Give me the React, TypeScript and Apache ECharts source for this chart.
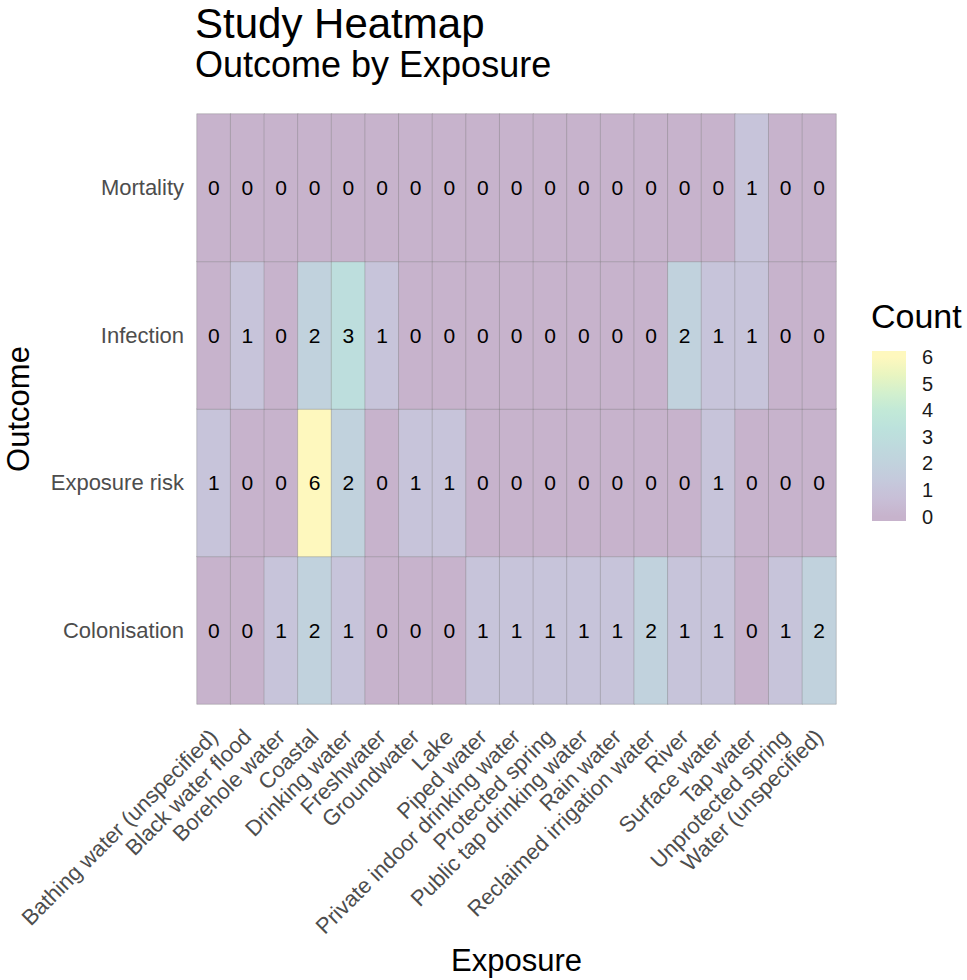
import React, { useEffect, useRef } from "react";
import * as echarts from "echarts";

const exposures = [
  "Bathing water (unspecified)",
  "Black water flood",
  "Borehole water",
  "Coastal",
  "Drinking water",
  "Freshwater",
  "Groundwater",
  "Lake",
  "Piped water",
  "Private indoor drinking water",
  "Protected spring",
  "Public tap drinking water",
  "Rain water",
  "Reclaimed irrigation water",
  "River",
  "Surface water",
  "Tap water",
  "Unprotected spring",
  "Water (unspecified)",
];

// bottom to top
const outcomes = ["Colonisation", "Exposure risk", "Infection", "Mortality"];

const colonisation = [0, 0, 1, 2, 1, 0, 0, 0, 1, 1, 1, 1, 1, 2, 1, 1, 0, 1, 2];
const exposureRisk = [1, 0, 0, 6, 2, 0, 1, 1, 0, 0, 0, 0, 0, 0, 0, 1, 0, 0, 0];
const infection = [0, 1, 0, 2, 3, 1, 0, 0, 0, 0, 0, 0, 0, 0, 2, 1, 1, 0, 0];
const mortality = [0, 0, 0, 0, 0, 0, 0, 0, 0, 0, 0, 0, 0, 0, 0, 0, 1, 0, 0];

const rows = [colonisation, exposureRisk, infection, mortality];

const legendTicks = [0, 1, 2, 3, 4, 5, 6];
const countMin = 0;
const countMax = 6;

// viridis blended on white at alpha 0.3
const palette = [
  "rgb(199,179,204)",
  "rgb(200,191,215)",
  "rgb(197,201,220)",
  "rgb(193,210,221)",
  "rgb(190,218,221)",
  "rgb(188,226,220)",
  "rgb(194,233,215)",
  "rgb(211,240,205)",
  "rgb(233,245,192)",
  "rgb(254,248,190)",
];

const FONT = "Liberation Sans, Arial, Helvetica, sans-serif";

export default function App() {
  const ref = useRef<HTMLDivElement>(null);

  useEffect(() => {
    if (!ref.current) return;
    const chart = echarts.init(ref.current, undefined, { renderer: "svg" });

    const data: number[][] = [];
    rows.forEach((vals, r) => {
      vals.forEach((v, c) => data.push([c, r, v]));
    });

    // legend bar geometry
    const barX = 872;
    const barW = 34;
    const barTop = 351;
    const barBottom = 521;
    const yMin = 516.5; // y of countMin
    const yMax = 357; // y of countMax
    const yOf = (v: number) =>
      yMin - ((v - countMin) / (countMax - countMin)) * (yMin - yMax);
    const barH = barBottom - barTop;
    const stops: { offset: number; color: string }[] = [];
    palette.forEach((col, i) => {
      const v = countMin + (i / (palette.length - 1)) * (countMax - countMin);
      const off = (yOf(v) - barTop) / barH;
      stops.push({ offset: Math.min(1, Math.max(0, off)), color: col });
    });
    stops.sort((a, b) => a.offset - b.offset);
    stops.unshift({ offset: 0, color: palette[palette.length - 1] });
    stops.push({ offset: 1, color: palette[0] });

    const graphics: any[] = [
      {
        type: "rect",
        shape: { x: barX, y: barTop, width: barW, height: barH },
        style: {
          fill: new echarts.graphic.LinearGradient(0, 0, 0, 1, stops),
        },
      },
      {
        type: "text",
        x: 871,
        y: 316,
        style: {
          text: "Count",
          font: `34px ${FONT}`,
          fill: "#000",
          textAlign: "left",
          textVerticalAlign: "middle",
        },
      },
    ];
    legendTicks.forEach((t) => {
      graphics.push({
        type: "text",
        x: 922,
        y: yOf(t),
        style: {
          text: String(t),
          font: `20px ${FONT}`,
          fill: "#1a1a1a",
          textAlign: "left",
          textVerticalAlign: "middle",
        },
      });
    });

    chart.setOption({
      animation: false,
      backgroundColor: "#fff",
      textStyle: { fontFamily: FONT },
      title: {
        text: "Study Heatmap",
        subtext: "Outcome by Exposure",
        left: 195,
        top: 2,
        padding: 0,
        itemGap: 2,
        textStyle: { fontSize: 42, fontWeight: "normal", color: "#000", fontFamily: FONT },
        subtextStyle: { fontSize: 36, color: "#000", fontFamily: FONT },
      },
      grid: {
        left: 197,
        top: 114,
        right: 131,
        bottom: 276,
        outerBoundsMode: "none",
        containLabel: false,
      },
      xAxis: {
        type: "category",
        data: exposures,
        name: "Exposure",
        nameLocation: "middle",
        nameGap: 235,
        nameTextStyle: { fontSize: 31, color: "#000", fontFamily: FONT },
        axisLine: { show: false },
        axisTick: { show: false },
        splitLine: { show: false },
        axisLabel: {
          rotate: 45,
          interval: 0,
          margin: 29,
          fontSize: 22,
          color: "#4D4D4D",
          fontFamily: FONT,
        },
      },
      yAxis: {
        type: "category",
        data: outcomes,
        name: "Outcome",
        nameLocation: "middle",
        nameRotate: 90,
        nameGap: 163,
        nameTextStyle: { fontSize: 31, color: "#000", fontFamily: FONT },
        axisLine: { show: false },
        axisTick: { show: false },
        splitLine: { show: false },
        axisLabel: {
          margin: 13,
          fontSize: 22,
          color: "#4D4D4D",
          fontFamily: FONT,
        },
      },
      visualMap: {
        show: false,
        type: "continuous",
        min: countMin,
        max: countMax,
        dimension: 2,
        inRange: { color: palette },
      },
      series: [
        {
          type: "heatmap",
          data,
          itemStyle: { borderColor: "rgba(120,120,120,0.35)", borderWidth: 1 },
          label: {
            show: true,
            formatter: (p: any) => String(p.value[2]),
            fontSize: 21,
            color: "#000",
            fontFamily: FONT,
          },
          emphasis: { disabled: true },
        },
      ],
      graphic: graphics,
    });

    return () => chart.dispose();
  }, []);

  return (
    <div
      ref={ref}
      style={{ position: "fixed", left: 0, top: 0, width: 967, height: 980 }}
    />
  );
}
